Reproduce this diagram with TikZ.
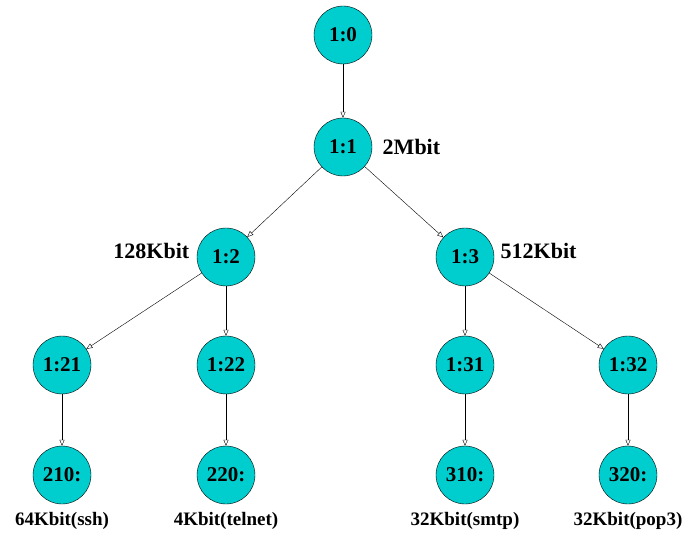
\documentclass[tikz,border=0pt]{standalone}
\usepackage{fontspec}
\setmainfont{Liberation Serif}
\usetikzlibrary{shapes,positioning,calc,arrows.meta}
\definecolor{turq}{RGB}{0,206,206}

\begin{document}
\begin{tikzpicture}
  [x=1pt,y=-1pt,
   qdiscN/.style={circle,draw,fill=turq,minimum size=58pt,inner sep=0pt,
                  font=\fontsize{21}{23}\selectfont\bfseries},
   rateL/.style={font=\fontsize{22}{24}\selectfont\bfseries},
   flowL/.style={font=\fontsize{19}{21}\selectfont\bfseries},
   >={Triangle[open,length=6pt,width=5pt]}]

  \useasboundingbox (0,0) rectangle (691,537);

  \path (343,35)  node[qdiscN] (q0) {1:0}
        (343,147) node[qdiscN] (q1) {1:1}
        (226,257) node[qdiscN] (q2) {1:2}
        (465,257) node[qdiscN] (q3) {1:3};

  \path (62,365)  node[qdiscN] (q21) {1:21}
        (226,365) node[qdiscN] (q22) {1:22}
        (465,365) node[qdiscN] (q31) {1:31}
        (628,365) node[qdiscN] (q32) {1:32};

  \path (62,475)  node[qdiscN] (l210) {210:}
        (226,475) node[qdiscN] (l220) {220:}
        (465,475) node[qdiscN] (l310) {310:}
        (628,475) node[qdiscN] (l320) {320:};

  \node[rateL] (r1) [right=7pt of q1] {2Mbit};
  \node[rateL] (r2) [left=4pt of q2,yshift=6pt] {128Kbit};
  \node[rateL] (r3) [right=3pt of q3,yshift=6pt] {512Kbit};

  \node[flowL] (f210) [below=5pt of l210] {64Kbit(ssh)};
  \node[flowL] (f220) [below=5pt of l220] {4Kbit(telnet)};
  \node[flowL] (f310) [below=5pt of l310] {32Kbit(smtp)};
  \node[flowL] (f320) [below=5pt of l320] {32Kbit(pop3)};

  \draw [->] (q0) -- (q1);
  \draw [->] (q1) -- (q2);
  \draw [->] (q1) -- (q3);

  \draw [->] (q2) -- (q21);
  \draw [->] (q2) -- (q22);
  \draw [->] (q3) -- (q31);
  \draw [->] (q3) -- (q32);

  \draw [->] (q21) -- (l210);
  \draw [->] (q22) -- (l220);
  \draw [->] (q31) -- (l310);
  \draw [->] (q32) -- (l320);

\end{tikzpicture}
\end{document}
